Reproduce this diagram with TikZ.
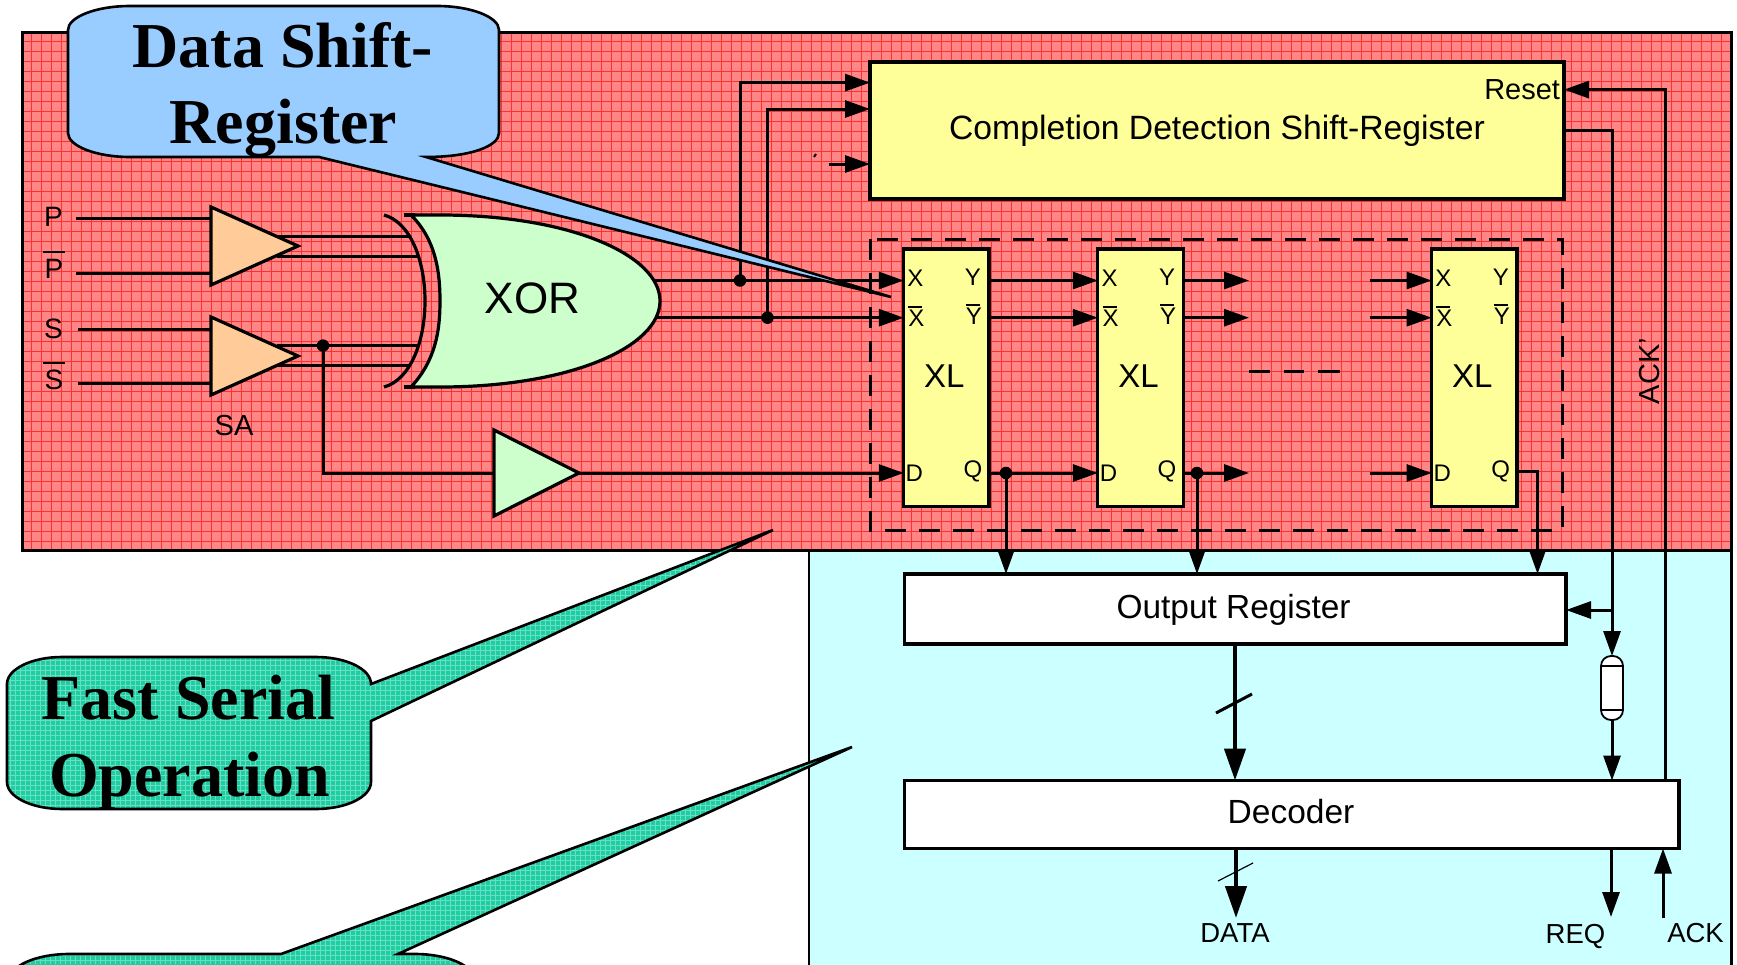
\documentclass[tikz,border=0pt]{standalone}
\usepackage{fontspec}
\setmainfont{Liberation Sans}
\newfontfamily\callfont{Liberation Serif}[BoldFont={Liberation Serif Bold}]
\usetikzlibrary{arrows.meta,calc}
\definecolor{redbase}{HTML}{FF8686}
\definecolor{redline}{HTML}{FF3030}
\definecolor{cyanbg}{HTML}{CCFFFF}
\definecolor{yellowbox}{HTML}{FFFF99}
\definecolor{greenbox}{HTML}{CCFFCC}
\definecolor{orangebox}{HTML}{FFCC99}
\definecolor{bluecall}{HTML}{99CCFF}
\definecolor{tealbase}{HTML}{20CDA0}
\definecolor{tealline}{HTML}{66E0C4}
\newcommand\fsz[1]{\fontsize{#1}{#1}\selectfont}
\newcommand\ovl[3]{\vbox{\hrule width #1pt height 2pt \kern #2pt \hbox to #1pt{\hfil #3\hfil}}}
\newcommand\callA{(62,657) -- (316,657) .. controls (346,657) and (371,669) .. (371,684) -- (773,530) -- (371,721) -- (371,782) .. controls (371,797) and (346,809) .. (316,809) -- (62,809) .. controls (32,809) and (7,797) .. (7,782) -- (7,684) .. controls (7,669) and (32,657) .. (62,657) -- cycle}
\newcommand\callB{(69,954) -- (281,954) -- (852,747) -- (398,954) -- (415,954) .. controls (448,954) and (475,966) .. (475,981) -- (475,1010) -- (9,1010) -- (9,981) .. controls (9,966) and (36,954) .. (69,954) -- cycle}
\tikzset{
  wire/.style={line width=3pt,line cap=butt,line join=miter},
  arr/.style={wire,-{Triangle[length=25pt,width=17pt]}},
  bigarr/.style={line width=4.5pt,-{Triangle[length=32pt,width=21pt]}},
  boxn/.style={draw=black,line width=3.2pt,inner sep=0pt,outer sep=0pt},
  gate/.style={draw=black,line width=3.2pt,line join=miter},
  dotn/.style={circle,fill=black,inner sep=0pt,outer sep=0pt,minimum size=12.5pt},
  lab/.style={inner sep=0pt,outer sep=0pt,text=black},
  call/.style={draw=black,line width=2.6pt,line join=miter},
  calltext/.style={anchor=base,inner sep=0pt,outer sep=0pt,font=\callfont\bfseries\fsz{64}},
}
\begin{document}
\begin{tikzpicture}[x=1pt,y=-1pt]
\useasboundingbox (0,0) rectangle (1737,964);
\clip (0,0) rectangle (1737,964);
\fill[white] (0,0) rectangle (1737,964);
% backgrounds
\draw[fill=cyanbg,line width=2.6pt] (809,550) rectangle (1731.5,1000);
\fill[redbase] (22,32) rectangle (1731.5,550.5);
\begin{scope}
\clip (22,32) rectangle (1731.5,550.5);
\foreach \gx in {31,41,...,1731} \draw[redline,line width=.9pt] (\gx,30) -- (\gx,552);
\foreach \gy in {41,51,...,551} \draw[redline,line width=.9pt] (20,\gy) -- (1733,\gy);
\end{scope}
\draw[line width=3pt] (22,32) rectangle (1731.5,550.5);

% coordinates
\coordinate (rowA) at (0,280.5);
\coordinate (rowB) at (0,317.7);
\coordinate (rowC) at (0,473);
\coordinate (tapA) at (740,280.5);
\coordinate (tapB) at (767.5,317.7);
\coordinate (xorA) at (650,280.5);
\coordinate (xorB) at (650,317.7);
\coordinate (saC) at (323,345.6);
\coordinate (ack) at (1665.5,89.6);
\coordinate (cdOut) at (1612,130.7);
\coordinate (orIn) at (1612,610);
\coordinate (stubC) at (829,164);
\coordinate (tick) at (814,157);

% dashed group
\draw[line width=3pt,dash pattern=on 21pt off 13pt] (870,239) rectangle (1562,530);

% sense-amp wires
\coordinate (inP) at (76,218);\coordinate (inPb) at (76,273);
\coordinate (inS) at (78,329);\coordinate (inSb) at (78,383.5);
\draw[wire] (inP) -- (211,218);
\draw[wire] (inPb) -- (211,273);
\draw[wire] (inS) -- (211,329);
\draw[wire] (inSb) -- (211,383.5);
\draw[wire] (277,236.5) -- (411,236.5);
\draw[wire] (277,256) -- (420,256);
\draw[wire] (277,345.6) -- (420,345.6);
\draw[wire] (277,365.6) -- (410,365.6);
\draw[wire] (saC) -- (saC |- 0,473) -- (494,473);
\draw[wire] (579,473) -- (880,473);

% triangles
\draw[gate,fill=orangebox] (211,207) -- (211,285) -- (298,246) -- cycle;
\draw[gate,fill=orangebox] (211,317) -- (211,395) -- (298,356) -- cycle;
\draw[gate,fill=greenbox] (494,430) -- (494,516) -- (579,473) -- cycle;

% blocks
\foreach \n/\cx in {a/946.4,b/1140.5,c/1474.25}{
  \node[boxn,fill=yellowbox,minimum width=85.3pt,minimum height=257.5pt] (\n) at (\cx,377.75) {};
}
\node[boxn,fill=yellowbox,minimum width=694pt,minimum height=137pt] (cd) at (1217,130.5) {};
\node[boxn,fill=white,minimum width=661.5pt,minimum height=70pt] (out) at (1235.25,609) {};
\node[boxn,fill=white,minimum width=774.5pt,minimum height=68pt] (dec) at (1291.75,814.5) {};

\draw[arr] (xorA) -- (a.west |- rowA);
\draw[arr] (xorB) -- (a.west |- rowB);
\draw[arr] (579,473) -- (a.west |- rowC);

\draw[arr] (tapA) -- (tapA |- 0,82.6) -- (cd.west |- 0,82.6);
\draw[arr] (tapB) -- (tapB |- 0,109) -- (cd.west |- 0,109);
\draw[arr] (stubC) -- (cd.west |- stubC);
\draw[line width=2pt] (tick) -- ++(2,-3);
\node[dotn] (dA) at (tapA) {};
\node[dotn] (dB) at (tapB) {};
\node[dotn] (dC) at (saC) {};

% XOR
\draw[gate] (384,215) .. controls (410,222) and (425,260) .. (425,301) .. controls (425,342) and (410,380) .. (384,387);
\draw[gate] (404,215) -- (415,215);
\draw[gate] (404,387) -- (415,387);
\draw[gate,fill=greenbox] (411,215) -- (440,215) .. controls (570,215) and (660,255) .. (660,301) .. controls (660,347) and (570,387) .. (440,387) -- (411,387) .. controls (436,360) and (440,330) .. (440,301) .. controls (440,272) and (436,240) .. (411,215) -- cycle;
\node[lab,font=\fsz{44}] (xorlab) at (532.5,298) {XOR};

% chain
\draw[arr] (a.east |- rowA) -- (b.west |- rowA);
\draw[arr] (a.east |- rowB) -- (b.west |- rowB);
\draw[arr] (a.east |- rowC) -- (b.west |- rowC);
\coordinate (eA) at (1249,280.5);\coordinate (eB) at (1249,317.7);\coordinate (eC) at (1249,473);
\coordinate (sA) at (1369.5,280.5);\coordinate (sB) at (1369.5,317.7);\coordinate (sC) at (1369.5,473);
\draw[arr] (b.east |- rowA) -- (eA);
\draw[arr] (b.east |- rowB) -- (eB);
\draw[arr] (b.east |- rowC) -- (eC);
\draw[arr] (sA) -- (c.west |- sA);
\draw[arr] (sB) -- (c.west |- sB);
\draw[arr] (sC) -- (c.west |- sC);
\draw[wire] (1249,371) -- (1270,371);
\draw[wire] (1284,371) -- (1304,371);
\draw[wire] (1318,371) -- (1340,371);

\node[dotn] (qA) at (1006,473) {};
\node[dotn] (qB) at (1197,473) {};
\coordinate (qC) at (1537.5,471);
\draw[arr] (qA) -- (qA |- out.north);
\draw[arr] (qB) -- (qB |- out.north);
\draw[arr] (c.east |- qC) -- (qC) -- (qC |- out.north);

% right side
\node[draw=black,line width=1.8pt,fill=white,rounded corners=10pt,inner sep=0pt,outer sep=0pt,minimum width=22pt,minimum height=64pt] (delay) at (1612,688) {};
\draw[line width=1.8pt] (1601,666) -- (1623,666);
\draw[line width=1.8pt] (1601,710) -- (1623,710);
\draw[wire] (cd.east |- cdOut) -- (cdOut) -- (orIn);
\draw[arr] (orIn) -- (out.east |- orIn);
\draw[arr] (orIn) -- (delay.north);
\draw[arr] (delay.south) -- (delay.south |- dec.north);
\draw[arr] (dec.north -| ack) -- (ack) -- (ack -| cd.east);

\draw[bigarr] (out.south -| 1235,0) -- (dec.north -| 1235,0);
\draw[line width=3pt] (1216,713) -- (1252,694);
\coordinate (dataTip) at (1236,918);
\coordinate (reqTip) at (1611,917);
\coordinate (ackFoot) at (1663,918);
\draw[bigarr] (dec.south -| dataTip) -- (dataTip);
\draw[line width=1.2pt] (1218,881) -- (1253,863);
\draw[arr] (dec.south -| reqTip) -- (reqTip);
\draw[arr] (ackFoot) -- (ackFoot |- dec.south);

% labels
\node[lab,font=\fsz{28}] (lP) at (53.5,217) {P};
\node[lab,font=\fsz{28}] (lPb) at (54,265) {\ovl{22}{6}{P}};
\node[lab,font=\fsz{28}] (lS) at (53.5,329) {S};
\node[lab,font=\fsz{28}] (lSb) at (54,376) {\ovl{22}{6}{S}};
\node[lab,font=\fsz{29}] (lSA) at (234,426) {SA};
\node[lab,font=\fsz{33.7}] (lcd) at (1217,131) {Completion Detection Shift-Register};
\node[lab,font=\fsz{29},anchor=east] (lreset) at (1560,90) {Reset};
\node[lab,font=\fsz{33.4}] (lout) at (1233.6,610) {Output Register};
\node[lab,font=\fsz{33.5}] (ldec) at (1291,812) {Decoder};
\node[lab,font=\fsz{27.5}] (ldata) at (1235,933) {DATA};
\node[lab,font=\fsz{27.5}] (lreq) at (1575.5,936) {REQ};
\node[lab,font=\fsz{27.5}] (lack) at (1695.5,933) {ACK};
\node[lab,font=\fsz{29},rotate=90] (lackp) at (1649.5,371) {ACK’};
\foreach \n/\cx in {a/946.4,b/1140.5,c/1474.25}{
  \node[lab,font=\fsz{33}] (\n XL) at (\cx-2,376) {XL};
  \node[lab,font=\fsz{24}] (\n X) at (\cx-31,278) {X};
  \node[lab,font=\fsz{24}] (\n Y) at (\cx+26.5,277) {Y};
  \node[lab,font=\fsz{24}] (\n Xb) at (\cx-31,316) {\ovl{14}{2}{X}};
  \node[lab,font=\fsz{24}] (\n Yb) at (\cx+26.5,314) {\ovl{14}{2}{Y}};
  \node[lab,font=\fsz{24}] (\n D) at (\cx-32,473) {D};
  \node[lab,font=\fsz{24}] (\n Q) at (\cx+26.5,471) {Q};
}

% callouts
\draw[call,fill=bluecall] (130,6) -- (437,6) .. controls (471,6) and (499,17) .. (499,30) -- (499,133) .. controls (499,146) and (471,157) .. (426,157) -- (891,297) -- (319,157) -- (130,157) .. controls (96,157) and (68,146) .. (68,133) -- (68,30) .. controls (68,17) and (96,6) .. (130,6) -- cycle;
\node[calltext] (ct1) at (283,67) {Data Shift-};
\node[calltext] (ct2) at (283.5,143) {Register};

\fill[tealbase] \callA;
\fill[tealbase] \callB;
\begin{scope}
\clip \callA;
\foreach \gx in {5,10,...,775} \draw[tealline,line width=.8pt] (\gx,525) -- (\gx,815);
\foreach \gy in {530,535,...,810} \draw[tealline,line width=.8pt] (0,\gy) -- (780,\gy);
\end{scope}
\begin{scope}
\clip \callB;
\foreach \gx in {5,10,...,855} \draw[tealline,line width=.8pt] (\gx,745) -- (\gx,964);
\foreach \gy in {750,755,...,964} \draw[tealline,line width=.8pt] (0,\gy) -- (860,\gy);
\end{scope}
\draw[call] \callA;
\draw[call] \callB;
\node[calltext] (ct3) at (188.5,719) {Fast Serial};
\node[calltext] (ct4) at (189.5,796) {Operation};
\end{tikzpicture}
\end{document}
